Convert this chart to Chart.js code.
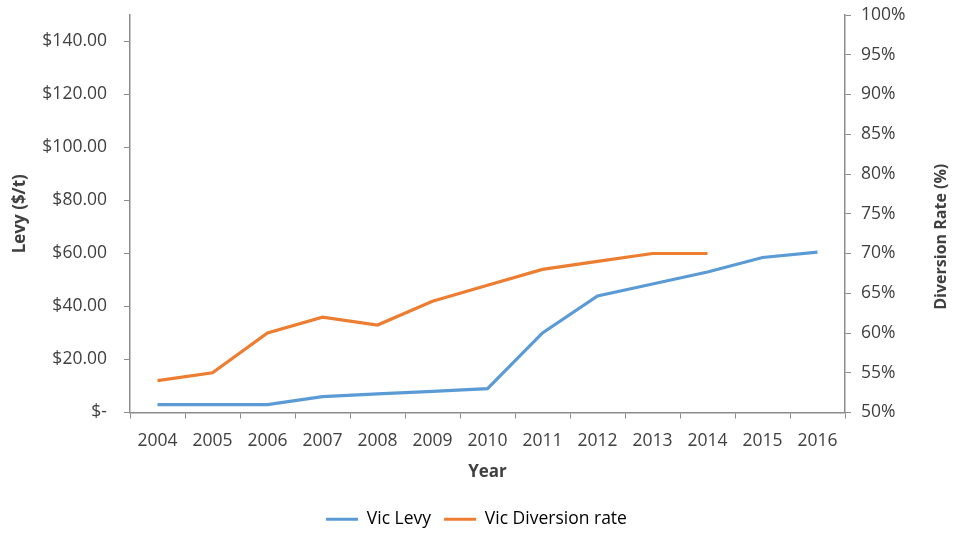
<!DOCTYPE html>
<html>
<head>
<meta charset="utf-8">
<script src="https://cdn.jsdelivr.net/npm/chart.js@4"></script>
<style>
  html, body { margin: 0; padding: 0; background: #fff; }
  #wrap { width: 953px; height: 533px; position: relative; }
</style>
</head>
<body>
<div id="wrap"><canvas id="chart"></canvas></div>
<script>
// data
const years = ['2004', '2005', '2006', '2007', '2008', '2009', '2010', '2011', '2012', '2013', '2014', '2015', '2016'];
const vicLevy = [3, 3, 3, 6, 7, 8, 9, 30, 44, 48.5, 53, 58.5, 60.5];        // $/t
const vicDiversion = [54, 55, 60, 62, 61, 64, 66, 68, 69, 70, 70, null, null]; // %
const levyTicks = [0, 20, 40, 60, 80, 100, 120, 140];

const FONT = "'Open Sans', 'Liberation Sans', sans-serif";
const TEXT = '#404040';
const AXIS = '#8c8c8c';

// right title reads bottom-to-top, chart.js would draw it the other way
const rightTitle = {
  id: 'rightTitle',
  afterDraw(chart) {
    const { ctx, chartArea } = chart;
    ctx.save();
    ctx.translate(941, (chartArea.top + chartArea.bottom) / 2 + 23);
    ctx.rotate(-Math.PI / 2);
    ctx.font = `bold 16px ${FONT}`;
    ctx.fillStyle = TEXT;
    ctx.textAlign = 'center';
    ctx.textBaseline = 'middle';
    ctx.fillText('Diversion Rate (%)', 0, 0);
    ctx.restore();
  }
};

// no extra room for the half tick labels at the ends
const noEndPad = s => { s.paddingTop = 0; s.paddingBottom = 0; };

new Chart(document.getElementById('chart'), {
  type: 'line',
  data: {
    labels: years,
    datasets: [
      {
        label: 'Vic Levy',
        data: vicLevy,
        yAxisID: 'y',
        borderColor: '#5b9bd5',
        backgroundColor: '#5b9bd5',
        borderWidth: 3.2,
        pointRadius: 0,
        tension: 0
      },
      {
        label: 'Vic Diversion rate',
        data: vicDiversion,
        yAxisID: 'y1',
        borderColor: '#ed7d31',
        backgroundColor: '#ed7d31',
        borderWidth: 3.2,
        pointRadius: 0,
        tension: 0,
        spanGaps: false
      }
    ]
  },
  options: {
    responsive: true,
    maintainAspectRatio: false,
    animation: false,
    layout: { padding: { top: 15, left: 0, right: 0, bottom: -5 } },
    plugins: {
      legend: {
        position: 'bottom',
        labels: {
          font: { family: FONT, size: 17.5 },
          color: TEXT,
          boxWidth: 32,
          boxHeight: 0,
          padding: 13,
          generateLabels: chart => chart.data.datasets.map((ds, i) => ({
            text: ds.label,
            fillStyle: ds.borderColor,
            strokeStyle: ds.borderColor,
            lineWidth: 3,
            datasetIndex: i,
            hidden: false
          }))
        }
      },
      tooltip: { enabled: false }
    },
    scales: {
      x: {
        offset: true,
        grid: { offset: true, drawOnChartArea: false, drawTicks: true, tickLength: 6, color: AXIS },
        border: { display: true, color: AXIS, width: 1.5 },
        ticks: { font: { family: FONT, size: 17.5 }, color: TEXT, padding: 12, maxRotation: 0 },
        title: { display: true, text: 'Year', font: { family: FONT, size: 17, weight: 'bold' }, color: TEXT, padding: { top: 4, bottom: 15 } },
        afterFit: s => { s.height = 85; }
      },
      y: {
        position: 'left',
        min: 0,
        max: 150,
        grid: { drawOnChartArea: false, drawTicks: true, tickLength: 6, color: AXIS },
        border: { display: true, color: AXIS, width: 1.5 },
        afterBuildTicks: s => { s.ticks = levyTicks.map(v => ({ value: v })); },
        ticks: {
          font: { family: FONT, size: 17.5 },
          color: TEXT,
          padding: 17,
          callback: v => v === 0 ? '$-' : '$' + v.toFixed(2)
        },
        title: { display: true, text: 'Levy ($/t)', font: { family: FONT, size: 17, weight: 'bold' }, color: TEXT, padding: { top: 10, bottom: 0 } },
        afterFit: s => { s.width = 130; noEndPad(s); }
      },
      y1: {
        position: 'right',
        min: 50,
        max: 100,
        grid: { drawOnChartArea: false, drawTicks: true, tickLength: 6, color: AXIS },
        border: { display: true, color: AXIS, width: 1.5 },
        ticks: {
          stepSize: 5,
          font: { family: FONT, size: 17.5 },
          color: TEXT,
          padding: 10,
          callback: v => v + '%'
        },
        afterFit: s => { s.width = 108; noEndPad(s); }
      }
    }
  },
  plugins: [rightTitle]
});
</script>
</body>
</html>
